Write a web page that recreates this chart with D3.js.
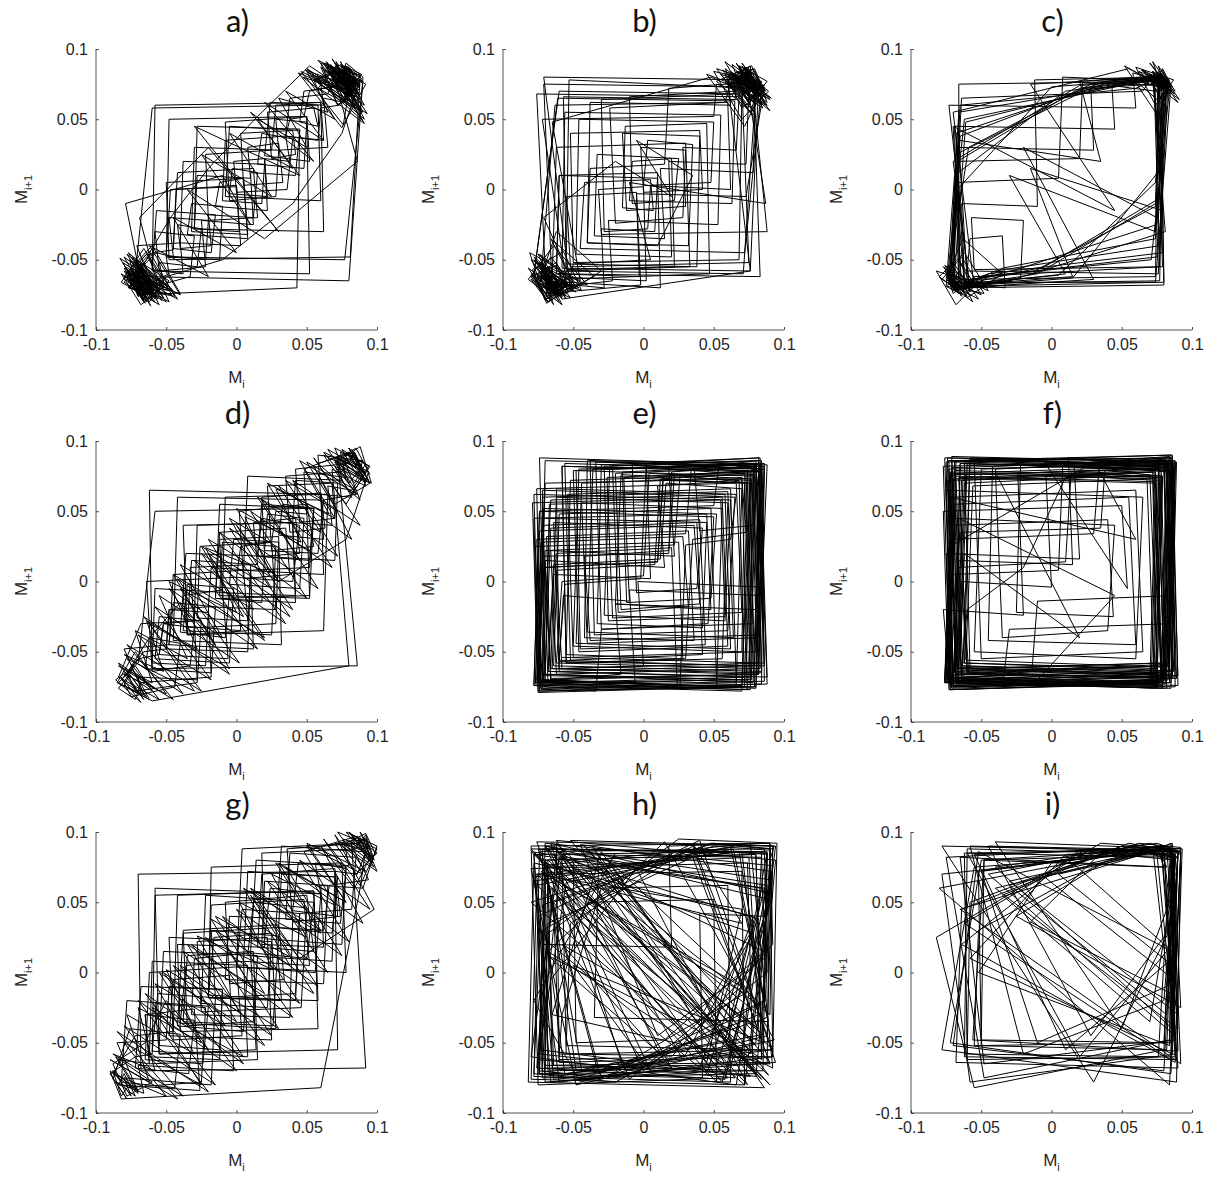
<!DOCTYPE html>
<html>
 <head>
    <meta charset="utf-8">
    <style>
        body { margin: 0; background: #fff; }
        svg { display: block; }
        .tick text { font-family: "Liberation Sans", Arial, sans-serif; font-size: 16px; fill: #262626; }
        .ttl { font-family: Lato, "Open Sans", sans-serif; font-size: 31px; fill: #111; }
        .lbl { font-family: "Liberation Sans", Arial, sans-serif; font-size: 17px; fill: #262626; }
    </style>
    <script src="https://cdn.jsdelivr.net/npm/d3@7"></script>
 </head>
 <body>
    <div id="chart"></div>
    <script>
        // M series per panel, in thousandths; each panel plots (M[i], M[i+1]) joined in order
        const titles = ["a)", "b)", "c)", "d)", "e)", "f)", "g)", "h)", "i)"];
        const xTicks = [-0.1, -0.05, 0, 0.05, 0.1];
        const yTicks = [-0.1, -0.05, 0, 0.05, 0.1];

        const seriesA = [80, 76, 84, 79, 72, 86, 82, 75, 88, 81, 70, 78, 85, 74, 83, 77, 68, 80, 87, 73,
            60, 58, 35, 38, 20, 22, -5, -3, 15, 12, -20, -18, -40, -42, -25, -28, -55, -52, -65,
            -70, -62, -74, -68, -58, -76, -66, -72, -60, -78, -64, -70, -55, -73, -67, -61, -75, -69, -57,
            -45, -48, -20, -22, -50, -47, 0, 2, -30, -28, 10, 8, 30, 33, 5, 3, 40, 42, 25, 22, 55, 58,
            45, 48, 70, 73, 78, 66, 84, 80, 74, 89, 82, 72, 86, 77, 62, 65, 30, 28, 50, 48, 15, 18, 40, 36,
            0, -2, 20, 22, -15, -12, 5, 8, -35, -32, -10, -12, -50, -48, -60, -66, -72, -58, -70, -76, -63,
            -68, -54, -74, -61, -66, -78, -59, -71, -40, -38, -60, -57, -15, -18, -45, -42, 12, 15, -20,
            -22, 25, 28, 60, 62, 35, 38, 65, 68, 76, 82, 71, 79, 88, 75, 83, 69, 81, 86, 74, 78, 90, 80,
            -65, -62, -70, -74, -56, -68, -72, -60, 58, 60, -8, -5, 45, 42, 10, 12, -25, -22, -55, -58,
            -30, -33, -62, -70, -75, -64, -68, -57, -77, -66, -72, -60, -45, -43, 0, 3, -40, -38, 20, 18,
            -10, -8, 35, 38, 50, 52, 20, 24, 62, 60, 75, 80, 72, 85, 78, 70, 84, 76, 65, 88, 81,
            -48, -50, 5, 8, -32, -30, 30, 28, -5, -8, 48, 52, 70, 74, 80, 77,
            62, 85, 70, 90, 55, 78, 88, 66, 82, 74, 91, 60, 80, 86, 68, 76, 84, 58, 72, 89, 79, 64, 87, 75,
            40, -10, -50, -62, -80, -48, -72, -66, -79, -55, -70, -76, -50, -68, -82, -60, -74, -58, -78,
            -46, -71, -64, -80, -56, -69, -20, 30, -30, 45, 10, 55, 20, 62, 35, 70, 50, 84, 66, 88, 72,
            60, 90, 76, 82, 68, 86, 20, -35, 0, -45, -20, -62, -40, -75, -58, -80, -66, -52, -77, -70,
            -60, -74, -48, -65, -79, -10, 10, -25, 25, -5, 40, 15, 50, 30, 65, 55, 78, 85, 70, 88, 74,
            81, 63, 90, 77, -50, -48, 50, 52, -60, -58, 60, 62, -30, -28, 45, 43, -70, -75, -66, -80,
            -58, -72, -63,
            -48, -80, -62, -44, -76, -70, -55, -82, -66, -42, -78, -58, -72, -50, -80, -64, -46, -75, -68, -53,
            -79, -60, -40, -74, -65, -81, -52, -70, -57, -77, -45, -72, -61, -83, -49, -69, -56, -78, -63, -47,
            -20, 15,
            52, 88, 64, 91, 47, 80, 70, 86, 58, 92, 75, 44, 83, 67, 89, 55, 78, 62, 90, 49,
            85, 72, 60, 87, 68, 93, 54, 81, 76, 46, 84, 65, 89, 57, 79, 71, 91, 50, 86, 63];

        const seriesB = [72, 80, 66, 84, 75, 62, 78, 86, 70, 58, 82, 74, 68, 88, 77, 64, 80, 71,
            -60, -58, -70, -62, -76, -55, -68, -80, -64, -72, -58, -66, -74, -52, -70, -78, -61,
            65, 63, -10, -8, 20, 22, -55, -57, 66, 64, 78, 70, 84, 62, 75, 80, 68, 86, 73,
            -5, -3, -62, -60, 10, 8, -30, -28, -70, -66, -58, -75, -64, -72, -54, -68, -78, -60,
            70, 68, -50, -52, 40, 42, 0, -2, 30, 28, -20, -24, 58, 62, 76, 82, 70, 88, 65, 79, 84, 72,
            -45, -42, 5, 7, -15, -13, 45, 47, -60, -64, -73, -56, -70, -66, -79, -62, -52, -71,
            80, 78, 12, 15, -35, -33, 25, 22, -8, -10, 66, 70, 74, 85, 68, 78, 62, 82, 76,
            -58, -56, 55, 53, -25, -22, -65, -70, -60, -75, -68, -57, -73, -63,
            60, 62, 0, 3, 35, 32, -40, -38, 15, 18, 72, 76, 82, 66, 79, 86, 70, 75,
            -52, -55, -5, -2, -68, -74, -62, -70, -58, -77, -65, -71,
            75, 73, 18, 20, -48, -46, 50, 48, 5, 3, -28, -30, 64, 68, 80, 74, 87, 70, 78, 83,
            -62, -60, 10, 12, -70, -65, -74, -58, -67, -72, -55, -69, -76,
            68, 66, 28, 30, -12, -15, 40, 38, -55, -53, 78, 72, 84, 76, 69, 81,
            74, 58, 86, 66, 80, 52, 77, 88, 62, 84, 70, 90, 64, 79, 55, 82, 73, 87, 60, 76,
            -58, -78, -50, -70, -64, -82, -56, -74, -46, -68, -80, -60, -72, -52, -77, -66, -48, -71,
            -20, 20, -5, 35, 10, -40, -38, 62, 60, 80, 70, 85, 58, 76, 88,
            -30, -32, 0, 2, -65, -62, 30, 33, -55, -58, -75, -68, -80, -62, -54, -72,
            50, 52, 75, 68, 84, 60, 80, 72, 87, -10, 5, -50, -53, -66, -76, -60, -70, -79, -57,
            -44, -72, -60, -80, -50, -66, -35, -62, -75, -46, -70, -58, -82, -64, -40, -68, -55, -78, -48, -73,
            -62, -30, -58, -76, -52, -69, -81, -45, -65,
            48, 80, 66, 90, 56, 85, 72, 45, 82, 68, 88, 60, 78, 52, 86, 74, 63, 89, 70, 50,
            84, 77, 58, 91, 65, 81];

        const seriesC = [76, 80, 72, 84, 78, 70, 82, 75, 79, 86, 73, 77,
            -55, -62, -70, -66, -74, -60, -68, -72, -64, -76, -58, -70,
            20, 74, 78, 72, 81, -30, -65, -70, -62, -68, 40, 76, 80, 74,
            -10, -60, -68, -73, -66, 55, 75, 79, 72, 83, 77,
            -40, -58, -66, -71, -63, -75, -69, 10, 70, 78, 82, 75,
            -20, 30, -64, -70, -67, 0, 73, 79, 76, 84, 71,
            -50, -62, -68, -73, -60, -66, 35, 20, 77, 81, 74,
            -35, -56, -69, -72, -65, 60, 72, 78, 83, 76, 80, 74,
            5, -61, -67, -71, -64, -70, 45, -15, 75, 80, 73, 79,
            -45, -60, -66, -72, -68, 25, 71, 77, 82, 75,
            -25, -57, -65, -70, -74, -62, 50, 74, 79, 85, 72, 78,
            15, -63, -69, -67, -73, -59, 30, 76, 81, 73, 79,
            -5, -55, -66, -71, -64, 65, 70, 78, 82, 76, 74,
            -30, 10, -60, -68, -72, -65, 38, 77, 80, 75,
            -48, -62, -70, -67, 20, 72, 79, 83, 77, 74,
            -12, -58, -64, -71, -69, -61, 48, 75, 78, 81,
            72, 84, 68, 80, 76, 88, 70, 82, 78, 65, 85, 74,
            -66, -66, 75, 77, 80, -68, -70, -72, -58, -75, -64, -70,
            -70, -68, 20, 22, 76, 74, -62, -64, -10, -12, 78, 80, -66, -69, 45, 43, 74, 70, 82, 76,
            -60, -58, -35, -33, -70, -66, -74, -62, -68, 5, 8, 80, 77, -65, -67, 30, 28, 72, 75, 79,
            -55, -57, -20, -22, -63, -71, -66, -58, -73, 60, 58, 83, 76, 79, -15, 15, -62, -68, -70,
            -52, -78, -64, -48, -74, -69, -56, -80, -62, -45, -72, -60, -76, -54, -68, -82, -58, -66, -50, -75,
            -63, -35, -60, -77, -55, -70,
            55, 86, 70, 90, 62, 84, 76, 52, 88, 68, 82, 58, 79, 72, 91, 64, 85, 74, 60, 87, 78, 66];

        const seriesD = [85, 90, 78, 92, 72, 88, 80, 95, 70, 82, 60, 62, 30, 33, 55, 52, 15, 18, 45, 40,
            0, 3, 25, 28, -20, -18, 10, 8, -35, -38, -10, -6, -55, -52, -30, -28, -70, -68, -80, -74,
            -62, -84, -72, -60, -78, -66, -50, -48, -20, -22, -60, -58, -5, -8, -40, -36, 20, 18, -15, -12,
            35, 38, 5, 2, 50, 55, 25, 22, 68, 70, 45, 42, 80, 84, 92, 76, 88, 96, 70, 85, 62, 58,
            20, 22, 48, 45, -5, -2, 30, 28, -30, -33, 10, 12, -48, -45, -15, -18, -65, -62, -40, -44,
            -75, -82, -68, -86, -70, -58, 50, 52, -10, -12, 30, 32, -45, -42, 60, 58, 90, 86, 75, 94,
            82, 65, 68, 40, 42, 72, 70, 15, 18, 55, 52, -12, -10, 28, 25, -38, -35, -2, -5, -58,
            -55, -25, -28, -72, -78, -64, -82, -70, -55, -52, -30, -33, -60, -64, 0, 3, -35, -32, 15, 12,
            42, 45, 20, 18, 60, 63, 38, 35, 75, 78, 88, 82, 94, 72, 86,
            -60, -62, 65, 62, -35, -38, 40, 42, -15, -12, 55, 52, 10, 8, -50, -48, -20, -18, -68, -72,
            -84, -76, -66, -80, -48, -45, 5, 8, -28, -26, 25, 28, 50, 48, 78, 74, 92, 84, 70, 88, 80,
            70, 95, 82, 62, 90, 76, 88, 58, 84, 92, 68, 80,
            -60, -85, -72, -50, -80, -66, -84, -58, -76, -62,
            -40, -15, -45, 5, -25, 25, -5, 45, 15, 60, 35, 72, 50, 85, 65, 94, 78,
            30, 0, 40, -20, 20, -40, -5, -62, -30, -78, -55, -84, -68,
            -30, -28, 40, 42, -10, -8, 60, 62, 5, 8, 75, 72, 88, 80, 95, 70,
            55, 82, 30, 68, 10, 50, -12, 35, -30, 15, -48, -5, -66, -25, -78, -45, -84, -60, -72, -35,
            -55, -10, -40, 12, -20, 30, 0, 52, 22, 70, 45, 86, 62, 92, 78, 55, 88, 40, 72, 18,
            58, -5, 38, -25, 20, -42, 2, -58, -18, -70, -38, -80, -52, -64, -28, -48, 0, -22, 24, 6,
            46, 28, 66, 48, 80, 92, 70, 85, 95, 76];

        const seriesE = [78, 75, -70, -72, 60, 64, -40, -36, 80, 84, -65, -62, 20, 24, -74, -70, 70, 73, 35, 30,
            -55, -58, 82, 79, -75, -78, 45, 48, -20, -16, 76, 72, -68, -64, 5, 2, 84, 80, -50, -54,
            62, 66, -72, -76, 30, 34, 80, 86, -60, -57, -10, -14, 74, 70, -78, -74, 50, 46, -30, -34,
            85, 82, -66, -70, 15, 10, 68, 72, -75, -71, 40, 44, -45, -48, 79, 83, -62, -58, 0, 4,
            77, 73, -70, -67, 55, 58, -25, -28, 82, 88, -73, -77, 25, 28, -55, -52, 72, 76, -68, -72,
            65, 60, -35, -38, 86, 80, -76, -70, 10, 14, 75, 79, -60, -64, 42, 38, -5, -8, 83, 78,
            -72, -66, 58, 62, -48, -44, 70, 74, -77, -73, 28, 32, -18, -22, 80, 84, -64, -60, 48, 52,
            -70, -74, 88, 83, -38, -42, 18, 22, 76, 70, -74, -78, 62, 58, -28, -24, 82, 86, -58, -62,
            8, 12, 73, 77, -70, -66, 38, 42, -52, -56, 84, 80, -75, -71, 52, 48, -12, -15, 78, 82,
            -66, -69, 32, 36, -42, -40, 86, 84, -73, -76, 66, 70, -22, -26, 74, 78, -62, -66, 22, 18,
            80, 76, -77, -72, 45, 42, -33, -30, 83, 88, -68, -64, 12, 16, 70, 66, -75, -79, 56, 60,
            -46, -50, 79, 75, -60, -56, -2, 2, 84, 86, -71, -74, 36, 40, -16, -20, 77, 81, -66, -62,
            60, 56, -55, -58, 82, 78,
            40, 36, 82, 84, -10, -6, -72, -70, 22, 26, 76, 78, -30, -34, -78, -74, 50, 54, 84, 80,
            -20, -16, -66, -70, 10, 14, 72, 70, -50, -46, 80, 84, -4, 0, -60, -62, 66, 62, 30, 26,
            -74, -70, 86, 82, -40, -44, 56, 52, -76, -72, 18, 20, 78, 82, -58, -54];

        const seriesF = [82, 78, -72, -68, 86, 88, -75, -70, 76, 80, -65, -60, 84, 80, -70, -74, 72, 75, -62, -58,
            88, 85, -76, -71, 30, 34, 82, 78, -68, -73, 86, 84, -60, -66, 74, 70, -72, -77, 82, 86,
            -10, -14, -64, -69, 79, 75, -74, -70, 60, 65, -50, -55, 87, 82, -66, -61, 76, 80, -71, -75,
            20, 16, 84, 89, -69, -64, 72, 78, -58, -62, 85, 81, -73, -69, 45, 40, -35, -40, 80, 86,
            -67, -72, 78, 74, -76, -70, 5, 8, 83, 88, -63, -68, 75, 71, -70, -74, 86, 82, -61, -56,
            68, 73, -66, -71, 89, 85, -72, -77, -20, -24, 77, 81, -69, -65, 84, 79, -74, -68, 55, 60,
            -45, -42, 82, 87, -64, -70, 73, 78, -71, -76, 88, 83, -59, -65, 35, 38, 79, 75, -73, -69,
            85, 90, -67, -62, 70, 76, -75, -71, 81, 86, -30, -34, -68, -72, 77, 73, -63, -58, 87, 83,
            -70, -75, 65, 60, -55, -50, 80, 84, -72, -67, 10, 14, 78, 74, -66, -71, 86, 90, -74, -69,
            40, 44, -25, -22, 83, 79, -70, -66, 15, 12, 88, 84, -60, -64, 0, -4, 76, 72, -73, -77,
            50, 54, -5, 85, 81, -67, -63, 74, 79, -76, -72, 25, 82, 86, -69, -65,
            84, 80, -70, -74, 88, 86, -66, -62, 20, -40, 78, 82, -76, -72, 60, 30, 86, 84, -64, -60,
            -20, 10, 74, 78, -72, -75, 85, 88, -68, -66, 45, -10, -70, -73, 80, 83, -58, -62];

        const seriesG = [90, 95, 82, 98, 75, 92, 86, 70, 72, 40, 44, 78, 75, 20, 24, 60, 56, 0, 4, 45,
            42, -20, -16, 25, 28, -40, -36, 5, 8, -60, -56, -15, -18, -80, -75, -88, -70, -84, -62, -65,
            -30, -34, -72, -68, -10, -12, -55, -52, 15, 12, -35, -38, 30, 34, -5, -8, 50, 55, 15, 18,
            70, 74, 40, 36, 88, 92, 98, 80, 94, 66, 62, 30, 32, 70, 68, 8, 12, 50, 46, -25,
            -28, 22, 25, -48, -45, -5, -2, -70, -66, -86, -78, -90, -72, -60, -58, 55, 58, -40, -42, 20,
            18, 85, 88, 96, 78, 100, 90, 60, 62, 18, 20, 65, 62, -8, -5, 40, 38, -32, -30, 10,
            14, -55, -58, -22, -25, -78, -82, -88, -70, -85, -50, -48, -10, -12, -62, -60, 8, 5, -42, -38,
            28, 32, -20, -18, 48, 52, 5, 8, 72, 68, 28, 32, 90, 86, 97, 82, 92, -68, -70, 70,
            72, -55, -58, 60, 56, 78, 74, 35, 38, 85, 82, 45, 42, -15, -18, 30, 26, -38, -35, 12,
            15, -62, -65, -30, -26, -84, -80, -72, -88, -76, -40, -44, -82, -78, -20, -24, -65, -62, 0, 4,
            -45, -48, 25, 22, -25, -22, 55, 50, 10, 14, 80, 76, 95, 88, 100, 72, 92,
            95, 80, 100, 85, 70, 92, 88, 60, -82, -90, -70, -86, -60, -78, -88, -65,
            -50, -20, -55, 0, -35, 20, -15, 40, 10, 60, 30, 78, 50, 90, 70, 98,
            45, 10, 55, -15, 30, -40, 5, -60, -25, -80, -50, -88, -72,
            -45, -42, 55, 58, -20, -18, 75, 78, 0, 4, 88, 92, 96, 84,
            60, 90, 35, 75, 12, 58, -10, 40, -32, 20, -52, 0, -70, -20, -85, -42, -90, -62, -78, -30,
            -58, -8, -38, 15, -18, 38, 5, 60, 28, 78, 50, 92, 72, 100, 88, 62, 95, 45, 80, 22,
            65, 0, 45, -22, 25, -45, 5, -65, -15, -80, -38, -88, -58, -70, -25, -50, 2, -28, 26, 2,
            50, 25, 70, 48, 86, 97, 78, 92, 99, 84];

        const seriesH = [88, 85, -70, -66, 60, -75, -80, 90, 92, 20, -60, -62, 92, -55, -72, -70, 75, 82, -40, 50,
            52, -78, 65, 90, 88, -65, -30, 86, -82, -78, 78, 40, -68, -70, 70, -10, -76, 93, 90, 80,
            -50, -74, -72, 30, 88, 84, -62, 55, -70, -78, 84, 86, 10, -45, 91, 72, -80, -76, 62, 89,
            -35, -32, 76, -74, -58, 84, 82, 45, -72, 25, 95, 92, -60, -78, 68, 86, -20, -70, -68, 80,
            -52, 94, 90, 58, -76, -68, 35, 82, -42, 90, -64, -66, -5, 74, -80, 88, 85, 70, -56, -72,
            48, 92, 90, -30, 65, -75, -62, 86, 15, -48, -50, 78, -70, 90, 52, -66, -78, 84, 60, -40,
            -74, -70, 92, 76, -58, 20, -68, 88, 86, -25, 80, -72, -75, 40, 94, -64, -76, 70, 86, -50,
            5, -70, 90, 66, -80, -60, 82, 38, -36, 89, -73, 72, -15, -66, 92, 56, -78, 85, -44, -70,
            78, 28, -62, 94, 80, -74, -55, 64, 88, -32, -72, 76, 92, -68, 12, -58, 84, -76, 70, 45,
            -64, 90, -80, 86, 60, -48, -70, 80, 84, -60, -64, 50, 90, 87, -20, -78, -72, 70, 35, 92,
            -55, -58, 82, -30, -75, 88, 62, -68, 15, 93, -48, -80, 74, 78,
            -70, -72, 88, 85, 40, 42, -75, -72, 20, 18, 90, 92, -60, -58, -30, 60, 62, -78, -74, 86,
            88, 0, -70, 80, 84, -55, -52, 35, 90, -65, -68, 70, 72, -80, 50, 92, 88, -45, -78, -20, 85];

        const seriesI = [88, 85, -50, -48, 80, 75, 90, 86, 20, -60, 85, 88, -45, 70, 92, 84, -80, 60, 87, 82,
            -55, -52, 30, 75, 88, 80, -20, -58, 90, 86, 5, 70, 85, 92, -65, 45, 78, 88, 84, -48,
            -75, 82, 90, -30, 65, 86, 80, -55, -82, 25, 88, 84, 76, -60, -58, 50, 90, 82, -10, -50,
            72, 87, 85, -62, 35, 92, 88, 80, -70, -52, 86, 15, 78, 90, -40, 60, 84, 88, -58, -78,
            70, 86, 92, -25, 40, 80, 88, -48, -65, 82, 75, 90, 86, 10, -55, 84, 88, 70, -35, 55,
            92, 85, -72, -50, 80, 88, -60, -62, 85, 82, 28, -45, 90, 87, -5, 68, 86, 84, -52, 0,
            78, 90, -68, -64, 45, 88, 82, -30, 62, 92, 89, -78, -55, 75, 85, -15, 36, 86, 90, -56,
            -48, 80, 84, 50, -40, 93, 88, -64, 20, 87, 80, -50, -52, 72, 89,
            -62, -60, 88, 84, 30, -78, 90, 86, -40, 75, 92, 86, -58, 10, 84, 88];

        const allSeries = [seriesA, seriesB, seriesC, seriesD, seriesE, seriesF, seriesG, seriesH, seriesI];

        const W = 1220, H = 1182;
        const colX = [96, 503, 911];
        const rowY = [49, 441, 832];
        const pw = 281, ph = 281;

        const svg = d3.select("#chart").append("svg").attr("width", W).attr("height", H);

        allSeries.forEach(function(s, k) {
            const x0 = colX[k % 3], y0 = rowY[Math.floor(k / 3)];
            const x = d3.scaleLinear().domain([-0.1, 0.1]).range([0, pw]);
            const y = d3.scaleLinear().domain([-0.1, 0.1]).range([ph, 0]);
            const g = svg.append("g").attr("transform", "translate(" + x0 + "," + y0 + ")");

            // return map points
            const pts = d3.pairs(s).map(p => [p[0] / 1000, p[1] / 1000]);
            g.append("path")
                .datum(pts)
                .attr("fill", "none")
                .attr("stroke", "#000")
                .attr("stroke-width", 1)
                .attr("stroke-linejoin", "miter")
                .attr("d", d3.line().x(d => x(d[0])).y(d => y(d[1])));

            const xa = g.append("g").attr("transform", "translate(0," + ph + ")")
                .call(d3.axisBottom(x).tickValues(xTicks).tickSize(-3).tickPadding(9).tickFormat(d3.format("")));
            const ya = g.append("g")
                .call(d3.axisLeft(y).tickValues(yTicks).tickSize(-3).tickPadding(8).tickFormat(d3.format("")));
            [xa, ya].forEach(a => {
                a.select(".domain").attr("stroke", "#262626").attr("stroke-width", 0.8);
                a.selectAll(".tick line").attr("stroke", "#262626").attr("stroke-width", 0.8);
                a.selectAll(".tick text").text(d => d === 0 ? "0" : String(d));
            });
            xa.select(".domain").attr("d", "M0,0H" + pw);
            ya.select(".domain").attr("d", "M0," + ph + "V0");

            // title
            g.append("text").attr("class", "ttl")
                .attr("x", pw / 2 + 1).attr("y", -17)
                .attr("text-anchor", "middle")
                .text(titles[k]);

            // x label M_i
            const xl = g.append("text").attr("class", "lbl")
                .attr("x", pw / 2).attr("y", ph + 53)
                .attr("text-anchor", "middle");
            xl.append("tspan").text("M");
            xl.append("tspan").attr("dy", 5).attr("font-size", 11).text("i");

            // y label M_{i+1}
            const yl = g.append("text").attr("class", "lbl")
                .attr("transform", "translate(-69," + (ph / 2) + ") rotate(-90)")
                .attr("text-anchor", "middle");
            yl.append("tspan").text("M");
            yl.append("tspan").attr("dy", 5).attr("font-size", 11).text("i+1");
        });
    </script>
 </body>
</html>
